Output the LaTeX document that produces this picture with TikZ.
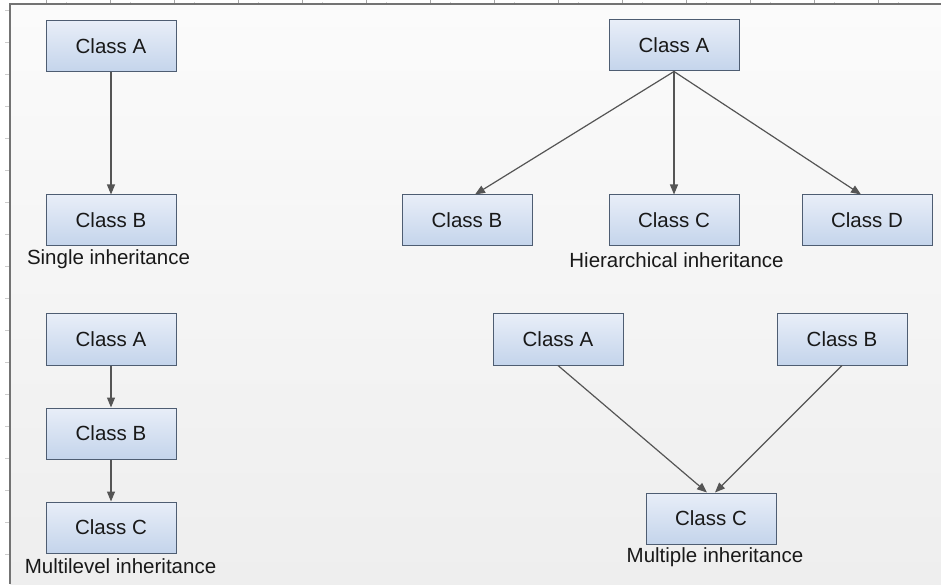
\documentclass[tikz,border=0pt]{standalone}
\usepackage{fontspec}
\setmainfont{Liberation Sans}
\usepackage{tikz}
\usetikzlibrary{positioning,arrows.meta}
\definecolor{boxtop}{HTML}{E8EEF8}
\definecolor{boxbot}{HTML}{C4D4EB}
\definecolor{boxline}{HTML}{4E5D72}
\definecolor{linkgray}{HTML}{555555}
\definecolor{pagetop}{HTML}{FBFBFB}
\definecolor{pagebot}{HTML}{EEEEEE}
\tikzset{cls/.style={rectangle,draw=boxline,line width=1pt,top color=boxtop,bottom color=boxbot,
	 minimum width=130pt,minimum height=51pt,inner sep=0pt,text=black!90,
	 font=\fontsize{20.5}{24}\selectfont},
	 capt/.style={inner sep=0pt,text=black!90,font=\fontsize{20.5}{24}\selectfont},
	 inh/.style={draw=linkgray,line width=1.2pt,-{Triangle[length=10pt,width=8pt]}},
	 node distance = 122pt
	 }

\begin{document}
\begin{tikzpicture}[x=1pt,y=1pt]
	\useasboundingbox (0,0) rectangle (941,584);
	% sheet with ruler edges
	\fill[white] (0,0) rectangle (941,584);
	\fill[top color=pagetop,bottom color=pagebot] (10,0) rectangle (941,580);
	\foreach \x in {46,110,...,878} {
		\draw[gray!70,line width=0.6pt] (\x,579) -- (\x,584);
		\draw[gray!35,line width=0.5pt] (\x+20,579) -- (\x+20,582);
	}
	\foreach \y in {30,62,...,574}
		\draw[gray!40,line width=0.5pt] (5,\y) -- (10,\y);
	\draw[gray!90!black,line width=1.4pt] (941,580) -- (10,580) -- (10,0);

	% single
	\node[cls] (sa) at (111,537.5) {Class A};
	\node[cls] (sb) [below=of sa] {Class B};
	\node[capt] (scap) at (108.5,325) {Single inheritance};
	\draw[inh] (sa) -- (sb);

	% hierarchical
	\node[cls] (ha) at (674,538.5) {Class A};
	\node[cls] (hc) [below=123pt of ha] {Class C};
	\node[cls] (hb) [left=76pt of hc] {Class B};
	\node[cls] (hd) [right=62pt of hc] {Class D};
	\node[capt] (hcap) at (676.5,324) {Hierarchical inheritance};
	\draw[inh] (ha.south) -- ([xshift=8pt]hb.north);
	\draw[inh] (ha.south) -- (hc.north);
	\draw[inh] (ha.south) -- ([xshift=-6pt]hd.north);

	% multilevel
	\node[cls] (ma) at (111,244.5) {Class A};
	\node[cls] (mb) [below=42pt of ma] {Class B};
	\node[cls] (mc) [below=42pt of mb] {Class C};
	\node[capt] (mcap) at (120.5,18) {Multilevel inheritance};
	\draw[inh] (ma) -- (mb);
	\draw[inh] (mb) -- (mc);

	% multiple
	\node[cls] (pa) at (558,244.5) {Class A};
	\node[cls] (pb) at (842,244.5) {Class B};
	\node[cls] (pc) at (711,65.5) {Class C};
	\node[capt] (pcap) at (715,27) {Multiple inheritance};
	\draw[inh] (pa.south) -- ([xshift=-4pt]pc.north);
	\draw[inh] (pb.south) -- ([xshift=4pt]pc.north);
\end{tikzpicture}
\end{document}
